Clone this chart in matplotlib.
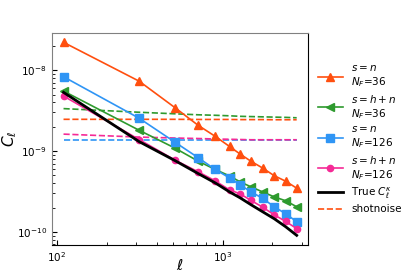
import numpy as np
import matplotlib.pyplot as plt
from matplotlib.ticker import NullFormatter

# multipole bins
ell = [110, 314, 516, 711, 904, 1102, 1277, 1486, 1743, 2047, 2403, 2800]

# measured C_ell for each sample
cl_sn_36 = [2.21e-8, 7.32e-9, 3.45e-9, 2.09e-9, 1.52e-9, 1.14e-9, 9.18e-10,
            7.47e-10, 6.18e-10, 4.97e-10, 4.24e-10, 3.48e-10]
cl_shn_36 = [5.52e-9, 1.81e-9, 1.09e-9, 7.53e-10, 5.92e-10, 4.93e-10, 4.16e-10,
             3.61e-10, 3.13e-10, 2.72e-10, 2.43e-10, 2.05e-10]
cl_sn_126 = [8.30e-9, 2.55e-9, 1.29e-9, 8.32e-10, 5.92e-10, 4.66e-10, 3.82e-10,
             3.13e-10, 2.61e-10, 2.05e-10, 1.68e-10, 1.34e-10]
cl_shn_126 = [4.79e-9, 1.39e-9, 7.75e-10, 5.56e-10, 4.28e-10, 3.31e-10, 2.96e-10,
              2.45e-10, 2.03e-10, 1.63e-10, 1.35e-10, 1.10e-10]
cl_true = [5.32e-9, 1.31e-9, 7.64e-10, 5.29e-10, 4.04e-10, 3.13e-10, 2.64e-10,
           2.17e-10, 1.78e-10, 1.46e-10, 1.16e-10, 9.08e-11]

# shot noise levels
sn_sn_36 = [2.47e-9, 2.47e-9, 2.47e-9, 2.46e-9, 2.46e-9, 2.46e-9, 2.45e-9,
            2.45e-9, 2.45e-9, 2.44e-9, 2.44e-9, 2.44e-9]
sn_shn_36 = [3.35e-9, 3.02e-9, 2.89e-9, 2.81e-9, 2.77e-9, 2.73e-9, 2.69e-9,
             2.67e-9, 2.65e-9, 2.63e-9, 2.61e-9, 2.58e-9]
sn_sn_126 = [1.38e-9] * 12
sn_shn_126 = [1.62e-9, 1.49e-9, 1.45e-9, 1.43e-9, 1.41e-9, 1.40e-9, 1.39e-9,
              1.38e-9, 1.38e-9, 1.38e-9, 1.38e-9, 1.38e-9]

c_or = '#ff4f0f'
c_gr = '#2e9a2e'
c_bl = '#2f95f5'
c_pk = '#f52a96'

fig = plt.figure(figsize=(4.15, 2.77), dpi=100)
ax = fig.add_axes([0.125, 0.1155, 0.618, 0.7665])

ax.plot(ell, sn_shn_36, '--', color=c_gr, lw=1.2)
ax.plot(ell, sn_sn_36, '--', color=c_or, lw=1.2)
ax.plot(ell, sn_sn_126, '--', color=c_bl, lw=1.2)
ax.plot(ell, sn_shn_126, '--', color=c_pk, lw=1.2)

ax.plot(ell, cl_sn_36, '-^', color=c_or, lw=1.2, ms=5.5, label='$s=n$\n$N_F$=36')
ax.plot(ell, cl_shn_36, '-<', color=c_gr, lw=1.2, ms=5.5, label='$s=h+n$\n$N_F$=36')
ax.plot(ell, cl_sn_126, '-s', color=c_bl, lw=1.2, ms=5.5, label='$s=n$\n$N_F$=126')
ax.plot(ell, cl_shn_126, '-o', color=c_pk, lw=1.2, ms=4.5, label='$s=h+n$\n$N_F$=126')
ax.plot(ell, cl_true, 'k-', lw=2, label=r'True $C_\ell^\kappa$')
ax.plot([], [], '--', color=c_or, lw=1.2, label='shotnoise')

ax.set_xscale('log')
ax.set_yscale('log')
ax.xaxis.set_minor_formatter(NullFormatter())
ax.yaxis.set_minor_formatter(NullFormatter())
ax.tick_params(which='both', direction='in', labelsize=7.5)
for s in ['left', 'top']:
    ax.spines[s].set_color('#808080')

ax.set_xlabel(r'$\ell$', fontsize=11)
ax.set_ylabel(r'$C_\ell$', fontsize=11)
ax.xaxis.set_label_coords(0.5, -0.06)
ax.yaxis.set_label_coords(-0.13, 0.5)

ax.legend(loc='center left', bbox_to_anchor=(1.0, 0.5), frameon=False,
          fontsize=7.5, handlelength=2.4, handletextpad=0.8, labelspacing=0.35)

fig.savefig('out.png', dpi=100)
